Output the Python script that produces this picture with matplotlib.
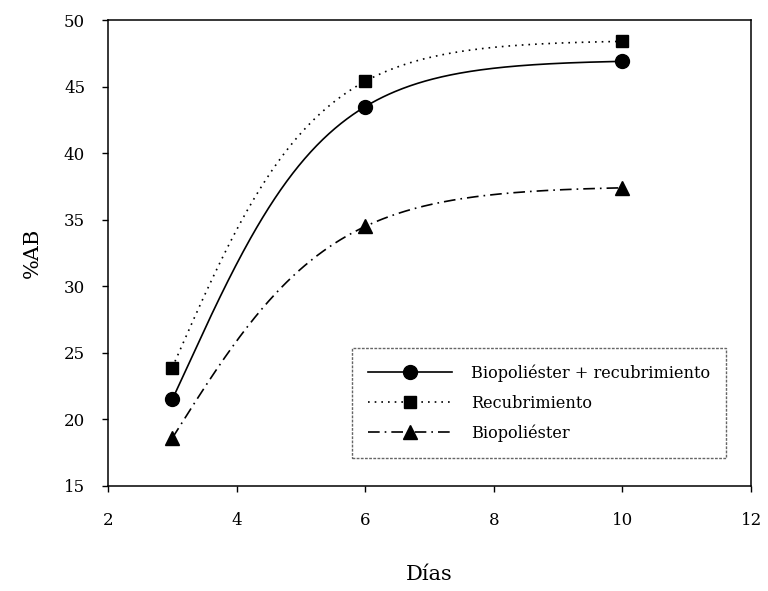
import numpy as np
import matplotlib as mpl
mpl.use("Agg")
import matplotlib.pyplot as plt

mpl.rcParams.update({
    "font.family": ["DejaVu Serif"],
    "font.size": 12,
    "axes.linewidth": 1.1,
})

# Data
dias = [3, 6, 10]
bio_rec = [21.5, 43.5, 46.9]
recub = [23.9, 45.4, 48.4]
bio = [18.6, 34.5, 37.4]

labels = ["Biopoliéster + recubrimiento", "Recubrimiento", "Biopoliéster"]
x_ticks = [2, 4, 6, 8, 10, 12]
y_ticks = [15, 20, 25, 30, 35, 40, 45, 50]


def logistic_fit(x, y):
    # exact 3-parameter logistic y = a / (1 + exp(z)), z linear in x
    x = np.asarray(x, float)
    y = np.asarray(y, float)

    def f(a):
        z = np.log(a / y - 1)
        return (z[0] - z[1]) / (x[1] - x[0]) - (z[1] - z[2]) / (x[2] - x[1])

    lo, hi = y.max() * 1.0000001, y.max() * 50
    for _ in range(200):
        mid = np.sqrt(lo * hi)
        if f(mid) < 0:
            lo = mid
        else:
            hi = mid
    a = np.sqrt(lo * hi)
    z = np.log(a / y - 1)
    s = (z[2] - z[1]) / (x[2] - x[1])
    xs = np.linspace(x[0], x[-1], 300)
    return xs, a / (1 + np.exp(z[1] + s * (xs - x[1])))


fig = plt.figure(figsize=(7.68, 5.91), dpi=100)
ax = fig.add_axes([0.1406, 0.1777, 0.8374, 0.7883])

styles = [
    (bio_rec, "o", 10, "-"),
    (recub, "s", 8.5, (0, (1, 3))),
    (bio, "^", 10, (0, (7, 3, 1, 3))),
]

for (vals, mk, ms, ls), lab in zip(styles, labels):
    xs, ys = logistic_fit(dias, vals)
    ax.plot(xs, ys, color="black", lw=1.2, ls=ls)
    ax.plot(dias, vals, ls="none", marker=mk, ms=ms, color="black")
    # legend proxy
    ax.plot([], [], color="black", lw=1.2, ls=ls, marker=mk, ms=ms, label=lab)

ax.set_xlim(2, 12)
ax.set_ylim(15, 50)
ax.set_xticks(x_ticks)
ax.set_yticks(y_ticks)
ax.tick_params(direction="out", length=4.5, width=1.0, pad=12, labelsize=12)
ax.tick_params(axis="x", pad=14)

ax.set_xlabel("Días", fontsize=15, labelpad=26)
ax.set_ylabel("%AB", fontsize=15, labelpad=16)

leg = ax.legend(loc="upper left", bbox_to_anchor=(0.379, 0.296),
                borderaxespad=0, fontsize=11.6, handlelength=5.2,
                handletextpad=1.2, labelspacing=0.8, borderpad=1.0,
                fancybox=False, framealpha=1)
frame = leg.get_frame()
frame.set_edgecolor("#666666")
frame.set_linewidth(1.0)
frame.set_linestyle((0, (2, 1)))

fig.savefig("out.png", dpi=100)
